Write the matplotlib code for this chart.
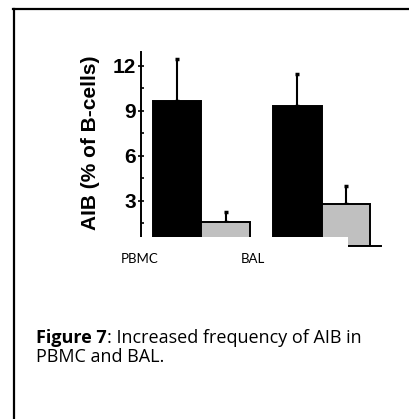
import matplotlib
matplotlib.use('Agg')
import matplotlib.pyplot as plt
from matplotlib.patches import Rectangle
from matplotlib.lines import Line2D
from matplotlib.ticker import MultipleLocator

# data
groups = ['PBMC', 'BAL']
black_vals = [9.65, 9.35]
black_err = [2.8, 2.12]
grey_vals = [1.58, 2.8]
grey_err = [0.71, 1.22]
yticks = [3, 6, 9, 12]

fig = plt.figure(figsize=(4.09, 4.19), dpi=100)
ax = fig.add_axes([0.3447, 0.4129, 0.5868, 0.463])

gap = 2.465
xb = [i * gap for i in range(len(groups))]
xg = [x + 1 for x in xb]

ax.bar(xb, black_vals, width=1.0, color='black', edgecolor='black', linewidth=1.4, zorder=2)
ax.bar(xg, grey_vals, width=1.0, color='#c0c0c0', edgecolor='black', linewidth=1.4, zorder=2)
ax.errorbar(xb, black_vals, yerr=[[0]*2, black_err], fmt='none', ecolor='black',
            elinewidth=1.5, capsize=1.2, capthick=2.5, zorder=1)
ax.errorbar(xg, grey_vals, yerr=[[0]*2, grey_err], fmt='none', ecolor='black',
            elinewidth=1.5, capsize=1.2, capthick=2.5, zorder=1)

ax.set_xlim(-0.74, 4.185)
ax.set_ylim(0, 12.93)
ax.set_xticks([])
ax.set_yticks(yticks)
ax.yaxis.set_minor_locator(MultipleLocator(1.5))
ax.tick_params(axis='y', which='major', direction='inout', length=5, width=1.2, pad=1)
ax.tick_params(axis='y', which='minor', direction='in', length=2.5, width=1.2)
for lab in ax.get_yticklabels():
    lab.set_fontfamily('Liberation Sans')
    lab.set_fontweight('bold')
    lab.set_fontsize(15)
for s in ['top', 'right']:
    ax.spines[s].set_visible(False)
ax.spines['left'].set_linewidth(1.4)
ax.spines['bottom'].set_linewidth(1.4)

ax.set_ylabel('AIB (% of B-cells)', fontfamily='Liberation Sans', fontweight='bold', fontsize=15)
ax.yaxis.set_label_coords(-0.171, 0.533)

# white strip that hides the lower part of the plot
fig.patches.append(Rectangle((0.2, 1 - 251 / 419), 348 / 409 - 0.2, 13.5 / 419,
                             transform=fig.transFigure, facecolor='white',
                             edgecolor='none', zorder=5))

for name, xp in zip(groups, [140, 253]):
    fig.text(xp / 409, 1 - 259 / 419, name, ha='center', va='center',
             fontfamily='Lato', fontsize=9.5, zorder=6)

# caption
cap_font = dict(fontfamily='Open Sans', fontsize=13, va='baseline')
t1 = fig.text(36 / 409, 1 - 343 / 419, 'Figure 7', fontweight='bold', **cap_font)
fig.canvas.draw()
bb = t1.get_window_extent()
fig.text(bb.x1 / 409, 1 - 343 / 419, ': Increased frequency of AIB in', **cap_font)
fig.text(36 / 409, 1 - 362 / 419, 'PBMC and BAL.', **cap_font)

# frame lines of the page box
fig.lines.append(Line2D([13.5 / 409, 13.5 / 409], [0, 1 - 9 / 419], transform=fig.transFigure,
                        color='black', linewidth=1.6))
fig.lines.append(Line2D([13 / 409, 1], [1 - 9 / 419, 1 - 9 / 419], transform=fig.transFigure,
                        color='black', linewidth=1.6))

fig.savefig('out.png', dpi=100)
